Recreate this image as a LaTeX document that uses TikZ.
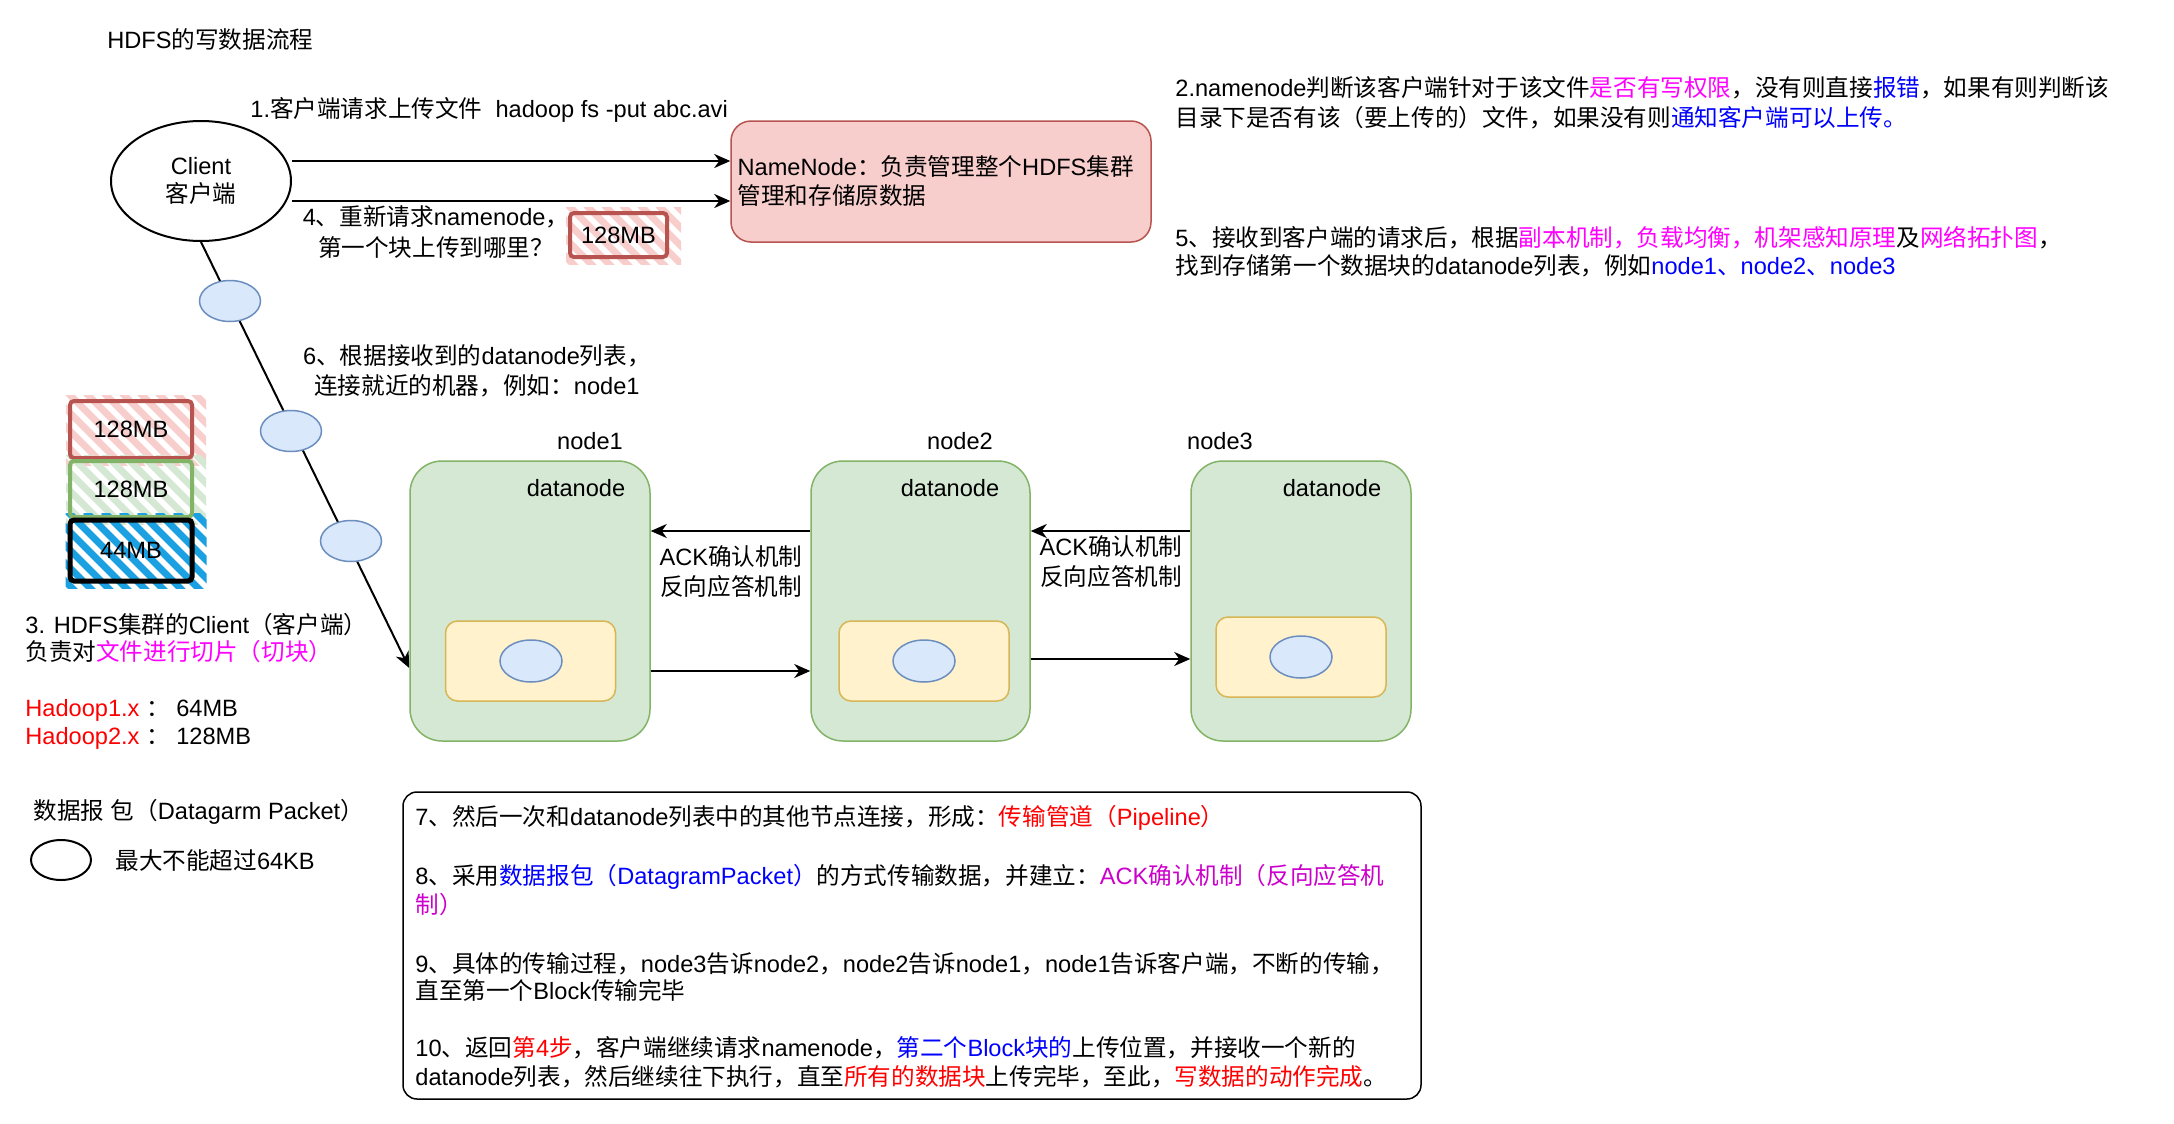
\documentclass[tikz,border=0pt]{standalone}
\usepackage{fontspec}
\setmainfont{Liberation Sans}
\newfontfamily\cjkfont{Noto Sans CJK SC}
\usetikzlibrary{arrows.meta,shapes.geometric}
\XeTeXinterchartokenstate=1
\newXeTeXintercharclass\CJKcls
\newcount\cjkcnt
\def\setcjkrange#1#2{\cjkcnt=#1\relax\loop\XeTeXcharclass\cjkcnt=\CJKcls\relax\ifnum\cjkcnt<#2\relax\advance\cjkcnt by 1\relax\repeat}
\setcjkrange{"3000}{"303F}
\setcjkrange{"4E00}{"9FFF}
\setcjkrange{"FF00}{"FFEF}
\XeTeXinterchartoks 0 \CJKcls = {\cjkfont}
\XeTeXinterchartoks 4095 \CJKcls = {\cjkfont}
\XeTeXinterchartoks \CJKcls 0 = {\rmfamily}
\XeTeXinterchartoks \CJKcls 4095 = {\rmfamily}
\XeTeXinterchartoks 4095 0 = {\rmfamily}
\definecolor{nnfill}{HTML}{F8CECC}
\definecolor{nnstroke}{HTML}{B85450}
\definecolor{dnfill}{HTML}{D5E8D4}
\definecolor{dnstroke}{HTML}{82B366}
\definecolor{yfill}{HTML}{FFF2CC}
\definecolor{ystroke}{HTML}{D6B656}
\definecolor{efill}{HTML}{DAE8FC}
\definecolor{estroke}{HTML}{6C8EBF}
\definecolor{hblue}{HTML}{1BA1E2}
\definecolor{mymag}{HTML}{FF00FF}
\definecolor{mypurple}{HTML}{CC00CC}
\definecolor{myblue}{HTML}{0000FF}
\definecolor{myred}{HTML}{FF0000}
\pgfdeclarelayer{bg}
\pgfsetlayers{bg,main}
% hachure behind a block, spilling a little past its border (sketch look)
\newcommand{\hatchfor}[2]{%
  \begin{pgfonlayer}{bg}
  \begin{scope}
    \clip ([xshift=-1pt,yshift=-2.5pt]#1.south west) rectangle ([xshift=6pt,yshift=2pt]#1.north east);
    \foreach \k in {-5,...,9} \draw[line width=3.4pt, #2] ([xshift=\k*9pt, yshift=3pt]#1.north west) -- ++(45pt,-45pt);
  \end{scope}
  \end{pgfonlayer}}
\begin{document}
\begin{tikzpicture}[x=0.5pt,y=-0.5pt,
  txt/.style={inner sep=0pt, font=\fontsize{11.8}{14}\selectfont},
  conn/.style={line width=1pt, -{Stealth[length=8pt,width=7pt,inset=2.5pt]}},
  dn/.style={draw=dnstroke, fill=dnfill, line width=0.75pt, rounded corners=16pt, minimum height=140pt, inner sep=0pt},
  ybox/.style={draw=ystroke, fill=yfill, line width=0.75pt, rounded corners=6pt, minimum width=85pt, minimum height=40pt, inner sep=0pt},
  pkt/.style={ellipse, draw=estroke, fill=efill, line width=0.75pt, minimum width=30.5pt, minimum height=20.5pt, inner sep=0pt},
  hb/.style={rounded corners=2pt, line width=2pt, minimum width=61pt, inner sep=0pt, font=\fontsize{11.8}{14}\selectfont}
]
\begin{pgfonlayer}{bg}
\fill[white] (0,0) rectangle (2174,1124);
\end{pgfonlayer}
\useasboundingbox (0,0) rectangle (2174,1124);

% title
\node[txt, anchor=west] (title) at (107,40) {HDFS的写数据流程};

% client and namenode
\node[ellipse, draw, line width=1pt, minimum width=90pt, minimum height=60pt, inner sep=0pt, align=center, font=\fontsize{11.8}{14}\selectfont] (client) at (201,181) {Client\\客户端};
\node[draw=nnstroke, fill=nnfill, line width=0.75pt, rounded corners=10pt, minimum width=210pt, minimum height=60.5pt, inner sep=0pt] (nn) at (941,181.5) {};
\node[txt, anchor=west, align=left, font=\fontsize{11.8}{14.5}\selectfont] (nntext) at ([xshift=3.5pt]nn.west) {NameNode：负责管理整个HDFS集群\\管理和存储原数据};

\draw[conn] ([yshift=10pt]client.east) -- ([yshift=10.25pt]nn.west);
\draw[conn] ([yshift=-10pt]client.east) -- ([yshift=-9.75pt]nn.west);

\node[txt, anchor=west] (lab1) at (250,110) {1.客户端请求上传文件\ \ hadoop fs -put abc.avi};
\node[txt, align=center, font=\fontsize{11.8}{15.5}\selectfont] (lab4) at (436,232.5) {4、重新请求namenode，\\第一个块上传到哪里？};
\node[hb, draw=nnstroke, minimum width=48.5pt, minimum height=22pt] (blk0) at (618.5,235) {128MB};
\hatchfor{blk0}{nnfill}

% right texts
\node[txt, anchor=west, align=left, font=\fontsize{11.8}{15}\selectfont] (lab2) at (1175,103) {2.namenode判断该客户端针对于该文件\textcolor{mymag}{是否有写权限}，没有则直接\textcolor{myblue}{报错}，如果有则判断该\\目录下是否有该（要上传的）文件，如果没有则\textcolor{myblue}{通知客户端可以上传。}};
\node[txt, anchor=west, align=left, font=\fontsize{11.8}{14}\selectfont] (lab5) at (1175,252) {5、接收到客户端的请求后，根据\textcolor{mymag}{副本机制，负载均衡，机架感知原理}及\textcolor{mymag}{网络拓扑图}，\\找到存储第一个数据块的datanode列表，例如\textcolor{myblue}{node1、node2、node3}};

% step 6 label
\node[txt, align=center, font=\fontsize{11.8}{15}\selectfont] (lab6) at (477,371) {6、根据接收到的datanode列表，\\连接就近的机器，例如：node1};

% datanodes
\node[dn, minimum width=120pt] (dn1) at (530,601) {};
\node[dn, minimum width=109.5pt] (dn2) at (920.5,601) {};
\node[dn, minimum width=110pt] (dn3) at (1301,601) {};
\node[txt] (n1lab) at (590,441) {node1};
\node[txt] (n2lab) at (960,441) {node2};
\node[txt] (n3lab) at (1220,441) {node3};
\node[txt] (d1lab) at (576,488) {datanode};
\node[txt] (d2lab) at (950,488) {datanode};
\node[txt] (d3lab) at (1332,488) {datanode};
\node[ybox] (y1) at (530.5,661) {};
\node[ybox] (y2) at (924,661) {};
\node[ybox] (y3) at (1301,657) {};
\node[pkt, minimum width=31pt, minimum height=21pt] (p1) at (531,661) {};
\node[pkt, minimum width=31pt, minimum height=21pt] (p2) at (924,661) {};
\node[pkt, minimum width=31pt, minimum height=21pt] (p3) at (1301,657) {};

\draw[conn] ([yshift=35pt]dn2.west) -- ([yshift=35pt]dn1.east);
\draw[conn] ([yshift=-35pt]dn1.east) -- ([yshift=-35pt]dn2.west);
\draw[conn] ([yshift=35pt]dn3.west) -- ([yshift=35pt]dn2.east);
\draw[conn] ([yshift=-29pt]dn2.east) -- ([yshift=-29pt]dn3.west);
\node[txt, align=center, font=\fontsize{11.8}{15}\selectfont] (ack1) at (731,572) {ACK确认机制\\反向应答机制};
\node[txt, align=center, font=\fontsize{11.8}{15}\selectfont] (ack2) at (1111,562) {ACK确认机制\\反向应答机制};

% client to node1 with packets
\draw[conn] (client.south) -- ([yshift=-33.5pt]dn1.west);
\node[pkt] (k1) at (230,301) {};
\node[pkt] (k2) at (291,431) {};
\node[pkt] (k3) at (351,541) {};

% blocks
\node[hb, draw=nnstroke, minimum height=28.5pt] (blk1) at (131,429.5) {128MB};
\node[hb, draw=dnstroke, minimum height=28pt] (blk2) at (131,489) {128MB};
\node[hb, draw=black, line width=2.5pt, minimum height=30.5pt] (blk3) at (131,550.5) {44MB};
\hatchfor{blk1}{nnfill}
\hatchfor{blk2}{dnfill}
\hatchfor{blk3}{hblue}

\node[txt, anchor=west, align=left, font=\fontsize{11.8}{13.5}\selectfont] (lab3) at (25,638.5) {3. HDFS集群的Client（客户端）\\负责对\textcolor{mymag}{文件进行切片（切块）}};
\node[txt, anchor=west, align=left, font=\fontsize{11.8}{14}\selectfont] (hadoop) at (25,724) {\textcolor{myred}{Hadoop1.x} ： 64MB\\\textcolor{myred}{Hadoop2.x} ： 128MB};

% legend
\node[txt, anchor=west] (leg1) at (33,812) {数据报 包（Datagarm Packet）};
\node[ellipse, draw, fill=white, line width=1pt, minimum width=30pt, minimum height=20pt, inner sep=0pt] (legell) at (61,860) {};
\node[txt, anchor=west] (leg2) at (115,861) {最大不能超过64KB};

% bottom box
\node[draw, fill=white, line width=0.75pt, rounded corners=7pt, minimum width=509pt, minimum height=153.5pt, inner sep=0pt] (bottom) at (912,945.5) {};
\node[txt, anchor=west] (p7) at (415,818) {7、然后一次和datanode列表中的其他节点连接，形成：\textcolor{myred}{传输管道（Pipeline）}};
\node[txt, anchor=west, align=left, font=\fontsize{11.8}{14.5}\selectfont] (p8) at (415,890.5) {8、采用\textcolor{myblue}{数据报包（DatagramPacket）}的方式传输数据，并建立：\textcolor{mypurple}{ACK确认机制（反向应答机}\\\textcolor{mypurple}{制）}};
\node[txt, anchor=west, align=left, font=\fontsize{11.8}{13.5}\selectfont] (p9) at (415,976.5) {9、具体的传输过程，node3告诉node2，node2告诉node1，node1告诉客户端，不断的传输，\\直至第一个Block传输完毕};
\node[txt, anchor=west, align=left, font=\fontsize{11.8}{14.5}\selectfont] (p10) at (415,1062.5) {10、返回\textcolor{myred}{第4步}，客户端继续请求namenode，\textcolor{myblue}{第二个Block块的}上传位置，并接收一个新的\\datanode列表，然后继续往下执行，直至\textcolor{myred}{所有的数据块}上传完毕，至此，\textcolor{myred}{写数据的动作完成}。};
\end{tikzpicture}
\end{document}
